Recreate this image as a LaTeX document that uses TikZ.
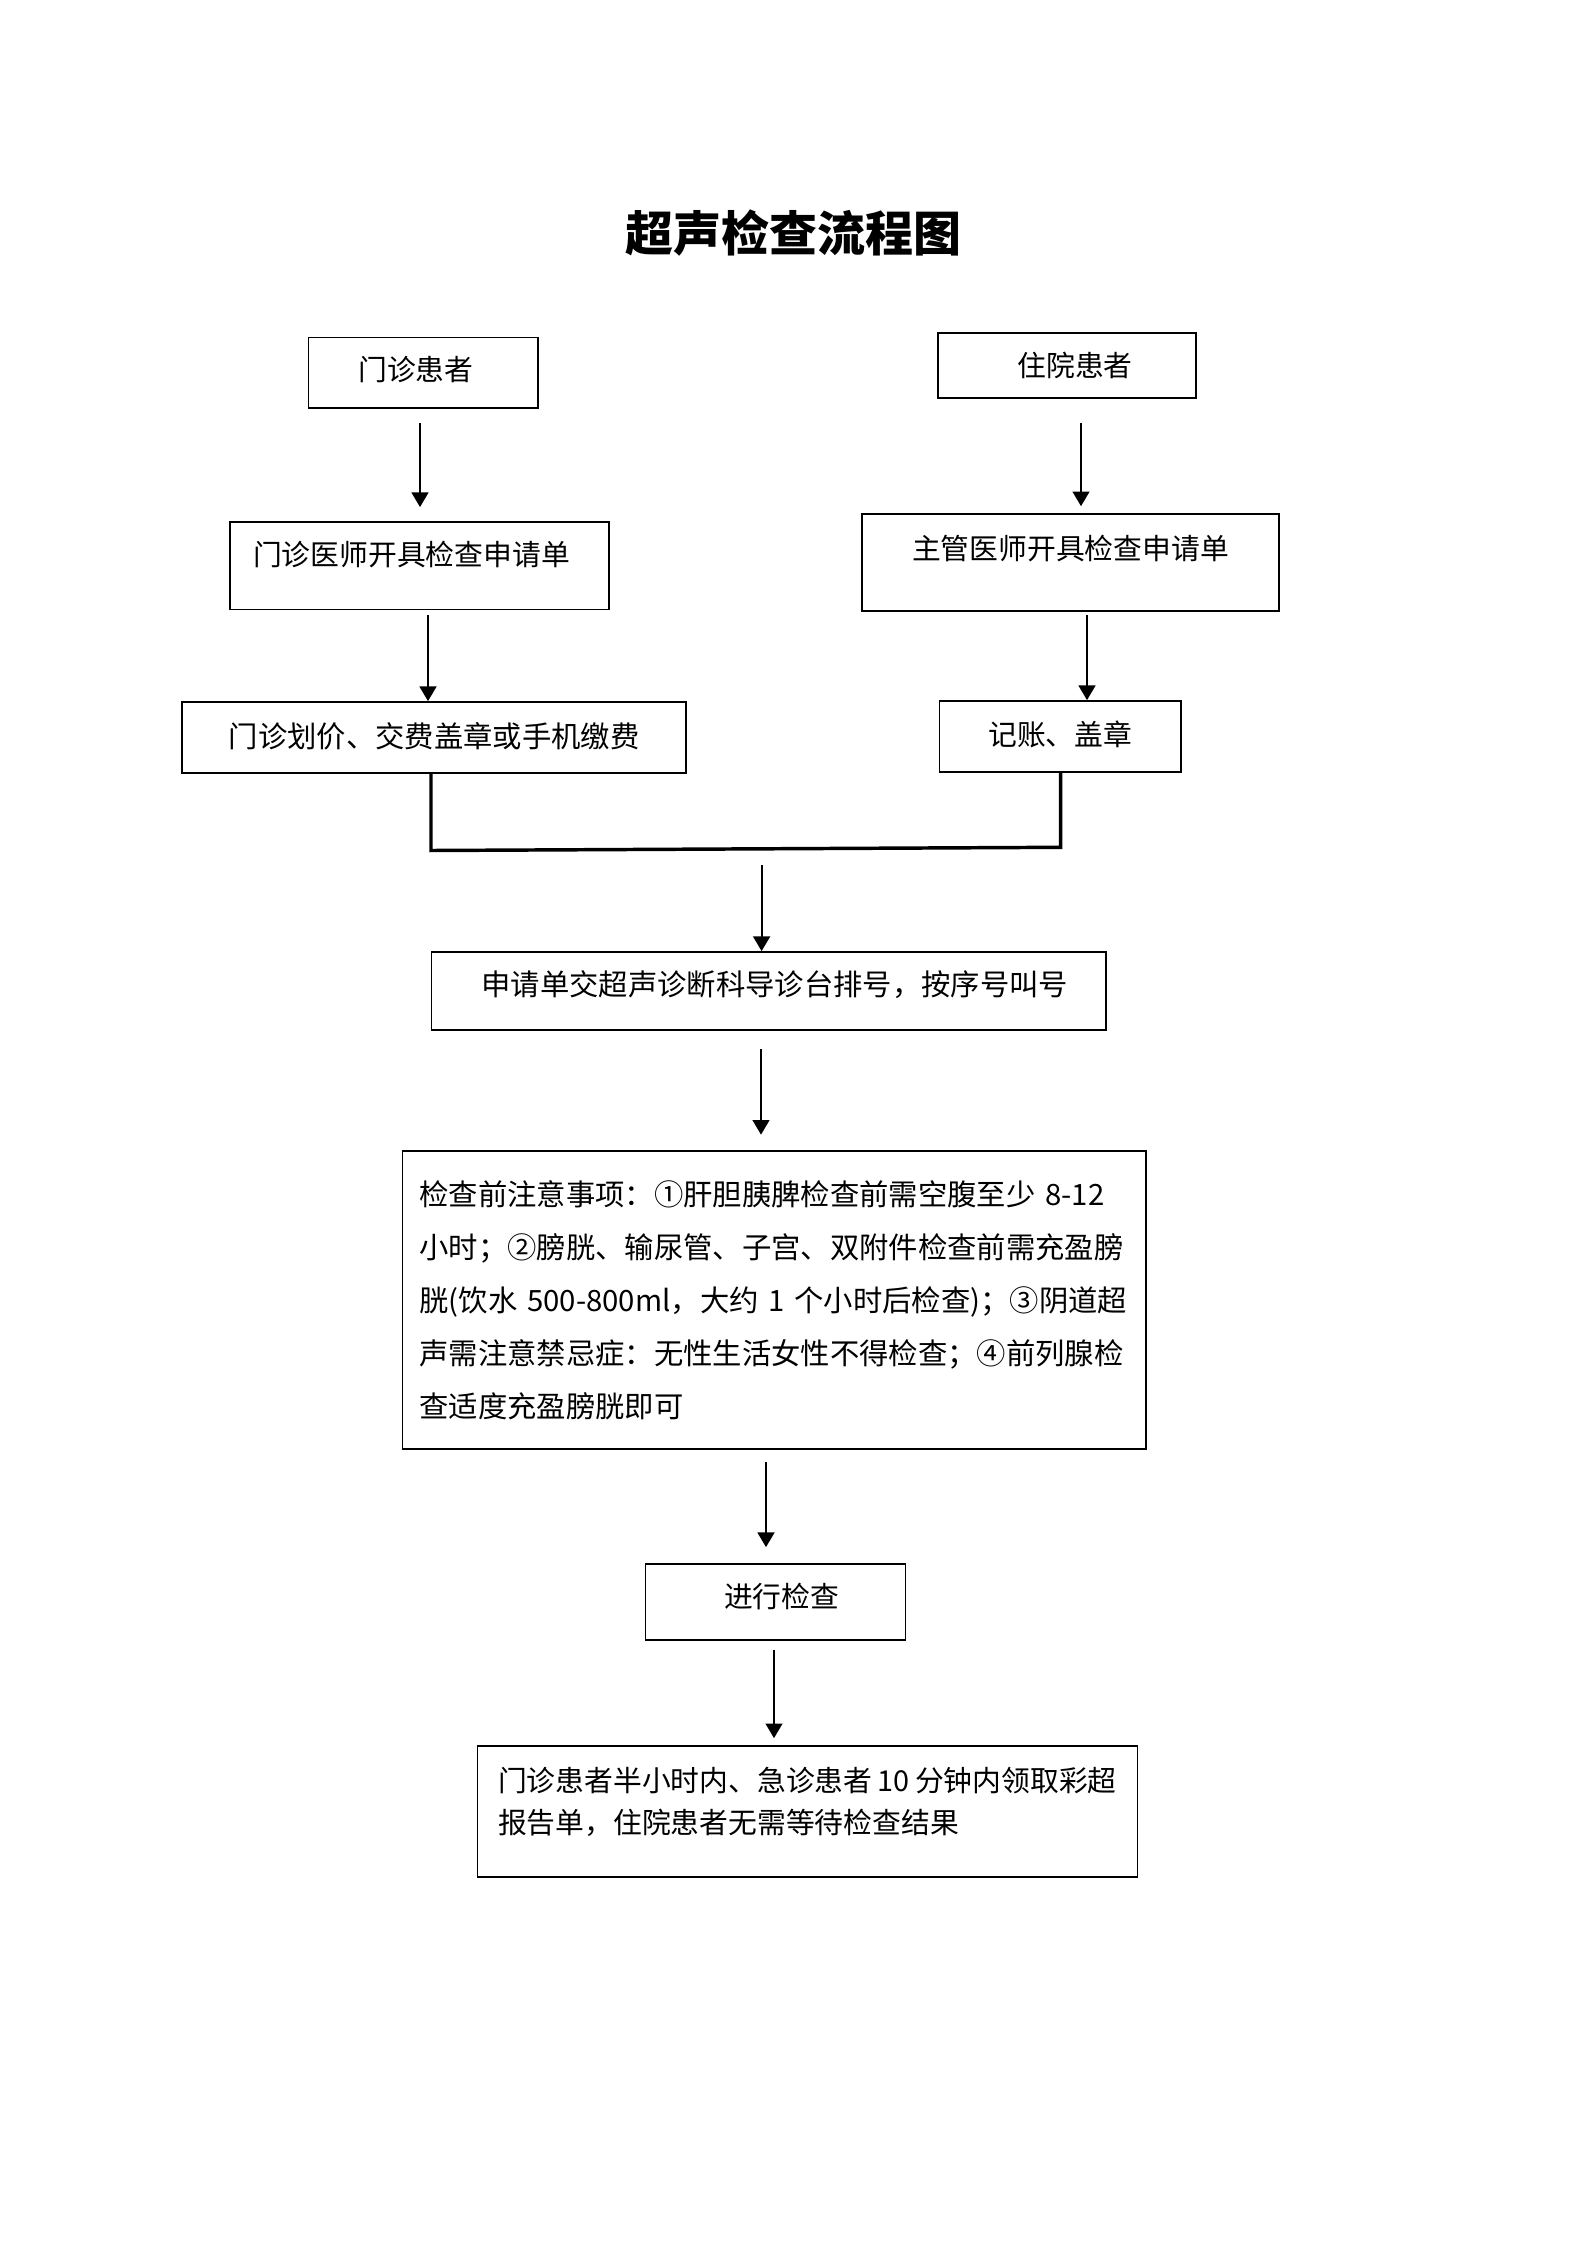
\documentclass[tikz,border=0pt]{standalone}
\usepackage{fontspec}
\setmainfont{Noto Sans CJK SC}
\usetikzlibrary{arrows.meta}
\setlength\parindent{0pt}
\tikzset{
  box/.style={draw, line width=0.65pt, rectangle, inner sep=0pt,
    font=\fontsize{10.8pt}{13pt}\selectfont, text height=9.5pt},
  sz/.style 2 args={minimum width=#1*0.375pt, minimum height=#2*0.375pt},
  arr/.style={draw, line width=0.75pt, -{Triangle[length=5.5pt,width=6.3pt]}},
  joinline/.style={draw, line width=1.3pt, line join=miter},
}
\begin{document}
\begin{tikzpicture}[x=0.375pt,y=-0.375pt]
\fill[white] (0,0) rectangle (1587,2245);
\useasboundingbox (0,0) rectangle (1587,2245);

\node[font=\fontsize{18pt}{22pt}\selectfont\bfseries, inner sep=0pt,
  text height=15.8pt, text depth=2.2pt] (title) at (793,233.6) {超声检查流程图};

\node[box, sz={229.5}{70.5}, text depth=3.5pt] (A) at (423.2,372.7) {门诊患者\hspace*{5.5pt}};
\node[box, sz={258}{65.3}, text depth=1.3pt] (B) at (1067,365.3) {\hspace*{6pt}住院患者};
\node[box, sz={379}{87.5}, text depth=9.3pt] (C) at (419.5,565.7) {门诊医师开具检查申请单\hspace*{6pt}};
\node[box, sz={417}{97}, text depth=11.9pt] (D) at (1070.5,562.5) {主管医师开具检查申请单};
\node[box, sz={504}{71}, font=\fontsize{11pt}{14pt}\selectfont,
  text height=9.7pt, text depth=2.5pt] (E) at (434,737.5) {门诊划价、交费盖章或手机缴费};
\node[box, sz={241.4}{71}, text depth=2.5pt] (F) at (1060.3,736.5) {记账、盖章};
\node[box, sz={674.4}{78}, font=\fontsize{11pt}{14pt}\selectfont,
  text height=9.7pt, text depth=6.5pt] (G) at (768.8,991)
  {\hspace*{4.5pt}申请单交超声诊断科导诊台排号，按序号叫号};
\node[box, sz={743.5}{298}, font=\fontsize{11pt}{19.9pt}\selectfont,
  text width=266pt, align=left, text height=9.7pt, text depth=80.9pt] (H) at (774.3,1300)
  {检查前注意事项：①肝胆胰脾检查前需空腹至少~8-12\\
   小时；②膀胱、输尿管、子宫、双附件检查前需充盈膀\\
   胱(饮水~500-800ml，大约~1~个小时后检查)；③阴道超\\
   声需注意禁忌症：无性生活女性不得检查；④前列腺检\\
   查适度充盈膀胱即可};
\node[box, sz={260}{76}, text depth=5.1pt] (I) at (775.6,1602) {\hspace*{4.5pt}进行检查};
\node[box, sz={660}{130.7}, font=\fontsize{10.8pt}{16.1pt}\selectfont,
  text width=232pt, align=left, text height=9.5pt, text depth=24.7pt] (J) at (807.5,1811.3)
  {门诊患者半小时内、急诊患者\hspace*{2pt}10\hspace*{2pt}分钟内领取彩超\\
   报告单，住院患者无需等待检查结果};

% arrow x positions
\coordinate (x1) at (420,0);
\coordinate (x2) at (1081,0);
\coordinate (x3) at (428,0);
\coordinate (x4) at (1087,0);
\coordinate (x6) at (761,0);
\coordinate (x7) at (766,0);
\coordinate (x8) at (774,0);

\draw[arr, shorten <=5.4pt, shorten >=5.25pt] (A.south -| x1) -- (C.north -| x1);
\draw[arr, shorten <=9pt, shorten >=2.6pt] (B.south -| x2) -- (D.north -| x2);
\draw[arr, shorten <=1.7pt] (C.south -| x3) -- (E.north -| x3);
\draw[arr, shorten <=1.1pt] (D.south -| x4) -- (F.north -| x4);

% joining bracket
\coordinate (jl) at (431,850.5);
\coordinate (jr) at (1060.7,847.3);
\draw[joinline] (E.south -| jl) -- (jl) -- (jr) -- (F.south -| jr);

\coordinate (js) at (761.6,865);
\draw[arr] (js) -- (G.north -| js);
\draw[arr, shorten <=6.9pt, shorten >=5.8pt] (G.south -| x6) -- (H.north -| x6);
\draw[arr, shorten <=4.5pt, shorten >=6pt] (H.south -| x7) -- (I.north -| x7);
\draw[arr, shorten <=3.4pt, shorten >=2.6pt] (I.south -| x8) -- (J.north -| x8);
\end{tikzpicture}
\end{document}
